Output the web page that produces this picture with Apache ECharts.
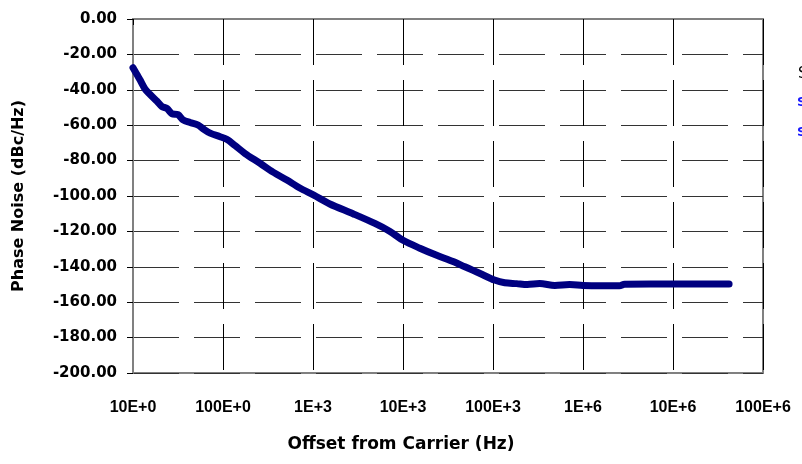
<!DOCTYPE html>
<html>
<head>
<meta charset="utf-8">
<script src="https://cdn.jsdelivr.net/npm/echarts@6/dist/echarts.min.js"></script>
<style>
  html, body { margin: 0; padding: 0; background: #fff; }
  #chart { width: 802px; height: 464px; }
</style>
</head>
<body>
<div id="chart"></div>
<script>
const offsetHz = [
  10, 11.1, 12, 13.6, 15.4, 18.5, 21, 23.8, 27, 31.6, 36, 43, 53, 60, 72, 93,
  110, 136, 176, 258, 360, 513, 714, 1020, 1540, 2780, 4870, 7170, 10000,
  15400, 23700, 36000, 48700, 60000, 77000, 104000, 135000, 183000, 240000,
  330000, 487000, 710000, 1000000, 1540000, 2540000, 2900000, 5600000,
  12000000, 26000000, 42000000
];
const phaseNoise = [
  -27.5, -31.5, -34.5, -39.5, -42.5, -46.5, -49.5, -50.5, -53.5, -54, -57, -58.5, -60, -62, -64.5, -66.5,
  -68, -71.5, -76, -81.5, -86.5, -91, -95.5, -99.5, -104.5, -110, -115.5, -120, -125,
  -129.5, -133.5, -137, -140, -142, -144.5, -147.5, -149, -149.5, -150,
  -149.5, -150.5, -150, -150.5, -150.7, -150.7, -149.8, -149.7,
  -149.7, -149.7, -149.7
];
const xTickLabels = ['10E+0', '100E+0', '1E+3', '10E+3', '100E+3', '1E+6', '10E+6', '100E+6'];
const legendLabels = ['SSB Phase Noise', 'Spec', 'Sim'];

const font = 'DejaVu Sans, Verdana, sans-serif';
const narrowFont = 'Liberation Sans, Arial, sans-serif';
const chart = echarts.init(document.getElementById('chart'));

const option = {
  backgroundColor: '#fff',
  animation: false,
  grid: {
    left: 133, right: 39, top: 19, bottom: 91,
    show: true, borderColor: '#808080', borderWidth: 2, backgroundColor: 'transparent'
  },
  xAxis: {
    type: 'log',
    logBase: 10,
    min: 10,
    max: 100000000,
    axisLine: { show: true, lineStyle: { color: '#808080', width: 2 } },
    axisTick: { show: true, length: 6, lineStyle: { color: '#000' } },
    axisLabel: {
      margin: 27,
      fontFamily: narrowFont, fontSize: 16, fontWeight: 'bold', color: '#000',
      formatter: v => xTickLabels[Math.round(Math.log10(v)) - 1]
    },
    minorTick: { show: false },
    splitLine: { show: true, lineStyle: { color: '#000', width: 1, type: [46, 15] } }
  },
  yAxis: {
    type: 'value',
    min: -200,
    max: 0,
    interval: 20,
    name: 'Phase Noise (dBc/Hz)',
    nameLocation: 'middle',
    nameGap: 106,
    nameTextStyle: { fontFamily: font, fontSize: 16, fontWeight: 'bold', color: '#000' },
    axisLine: { show: true, lineStyle: { color: '#808080', width: 2 } },
    axisTick: { show: true, length: 6, lineStyle: { color: '#000' } },
    axisLabel: {
      margin: 16,
      fontFamily: font, fontSize: 15, fontWeight: 'bold', color: '#000',
      formatter: v => v.toFixed(2)
    },
    splitLine: { show: true, lineStyle: { color: '#333', width: 1, type: [46, 15] } }
  },
  graphic: [
    {
      type: 'text', left: 'center', top: 436,
      style: {
        text: 'Offset from Carrier (Hz)', fontFamily: font, fontSize: 17, fontWeight: 'bold', fill: '#000'
      }
    },
    {
      type: 'text', left: 798, top: 67,
      style: { text: legendLabels[0], fontFamily: font, fontSize: 15, fill: '#000' }
    },
    {
      type: 'text', left: 797, top: 96,
      style: { text: legendLabels[1], fontFamily: font, fontSize: 13, fontWeight: 'bold', fill: '#1a1aff' }
    },
    {
      type: 'text', left: 797, top: 126,
      style: { text: legendLabels[2], fontFamily: font, fontSize: 13, fontWeight: 'bold', fill: '#1a1aff' }
    }
  ],
  series: [{
    type: 'line',
    data: offsetHz.map((f, i) => [f, phaseNoise[i]]),
    showSymbol: false,
    smooth: 0.3,
    lineStyle: { color: '#000080', width: 7, cap: 'round', join: 'round' },
    itemStyle: { color: '#000080' }
  }]
};

chart.setOption(option);
</script>
</body>
</html>
